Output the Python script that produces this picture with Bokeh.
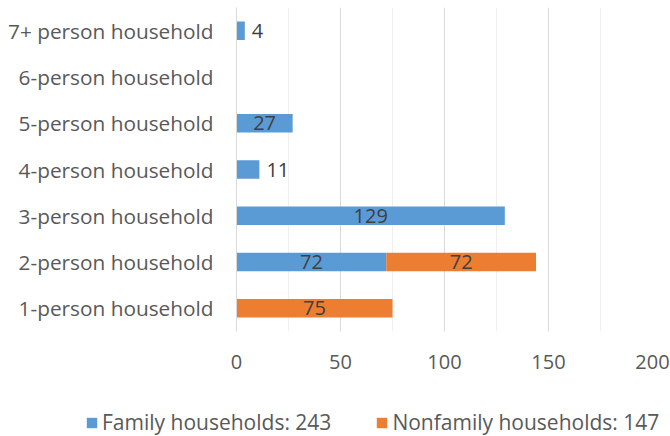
from bokeh.plotting import figure
from bokeh.layouts import column
from bokeh.models import (ColumnDataSource, Range1d, FactorRange, SingleIntervalTicker,
                          Legend, LegendItem)
from bokeh.core.properties import value
from bokeh.embed import file_html
from bokeh.resources import INLINE

# ---- data ----
categories = ["1-person household", "2-person household", "3-person household",
              "4-person household", "5-person household", "6-person household",
              "7+ person household"]
family = [0, 72, 129, 11, 27, 0, 4]
nonfamily = [75, 72, 0, 0, 0, 0, 0]
series_names = ["Family households", "Nonfamily households"]
series_colors = ["#5B9BD5", "#ED7D31"]

FONT = "Open Sans"
AXIS_TXT = "#595959"
LBL_TXT = "#404040"

src = ColumnDataSource(dict(cat=categories, family=family, nonfamily=nonfamily))

p = figure(width=670, height=385, output_backend="svg", toolbar_location=None,
           y_range=FactorRange(*categories), x_range=Range1d(0, 200),
           min_border_left=236, min_border_right=18, min_border_top=7,
           min_border_bottom=54)
p.outline_line_color = None
p.background_fill_color = "white"
p.border_fill_color = "white"

renderers = p.hbar_stack(["family", "nonfamily"], y="cat", height=0.4,
                         color=series_colors, line_color=None, source=src)

# ---- data labels ----
c_x, c_y, c_t = [], [], []
o_x, o_y, o_t = [], [], []
for cat, f, n in zip(categories, family, nonfamily):
    start = 0
    for v in (f, n):
        if v > 0:
            if v < 15:
                o_x.append(start + v); o_y.append(cat); o_t.append(str(v))
            else:
                c_x.append(start + v / 2); c_y.append(cat); c_t.append(str(v))
        start += v

p.text(x=c_x, y=c_y, text=c_t, text_align="center", text_baseline="middle",
       text_font=value(FONT), text_font_size="20px", text_color=LBL_TXT)
p.text(x=o_x, y=o_y, text=o_t, text_align="left", text_baseline="middle",
       x_offset=7, text_font=value(FONT), text_font_size="20px", text_color=LBL_TXT)

# ---- axes / grid ----
p.xaxis.ticker = SingleIntervalTicker(interval=50, num_minor_ticks=2)
p.xgrid.grid_line_color = "#d9d9d9"
p.xgrid.grid_line_width = 1
p.xgrid.minor_grid_line_color = "#f0f0f0"
p.xgrid.minor_grid_line_width = 1
p.ygrid.grid_line_color = None

p.xaxis.axis_line_color = None
p.xaxis.major_tick_line_color = None
p.xaxis.minor_tick_line_color = None
p.xaxis.major_tick_out = 0
p.xaxis.major_label_standoff = 19
p.xaxis.major_label_text_font = FONT
p.xaxis.major_label_text_font_size = "20px"
p.xaxis.major_label_text_color = AXIS_TXT

p.yaxis.axis_line_color = "#d9d9d9"
p.yaxis.axis_line_width = 1
p.yaxis.major_tick_line_color = None
p.yaxis.minor_tick_line_color = None
p.yaxis.major_tick_out = 0
p.yaxis.major_label_standoff = 23
p.yaxis.major_label_text_font = FONT
p.yaxis.major_label_text_font_size = "20.8px"
p.yaxis.major_label_text_color = AXIS_TXT

# ---- legend (in a strip figure below the chart) ----
totals = [sum(family), sum(nonfamily)]
lg = figure(width=670, height=51, output_backend="svg", toolbar_location=None,
            x_range=Range1d(-2, -1), y_range=FactorRange(*categories),
            x_axis_type=None, y_axis_type=None, min_border=0)
lg.outline_line_color = None
lg.xgrid.grid_line_color = None
lg.ygrid.grid_line_color = None
lg.background_fill_color = "white"
lg.border_fill_color = "white"

aligned = True
if "frame_align" in lg.properties():
    lg.frame_align = False
    p.frame_align = False
    aligned = False

lg_renderers = lg.hbar_stack(["family", "nonfamily"], y="cat", height=0.4,
                             color=series_colors, line_color=None, source=src)
items = [LegendItem(label=f"{name}: {tot}", renderers=[r])
         for name, tot, r in zip(series_names, totals, lg_renderers)]
legend_x = 85 - 236 if aligned else 85
legend = Legend(items=items, orientation="horizontal", location=(legend_x, 0),
                glyph_width=13, glyph_height=13, label_standoff=4, spacing=44,
                padding=0, margin=0, border_line_color=None,
                background_fill_alpha=0,
                label_text_font=FONT, label_text_font_size="21px",
                label_text_color=AXIS_TXT)
lg.add_layout(legend, "center")

layout = column(p, lg, spacing=0)
open("out.html", "w").write(file_html(layout, INLINE))
